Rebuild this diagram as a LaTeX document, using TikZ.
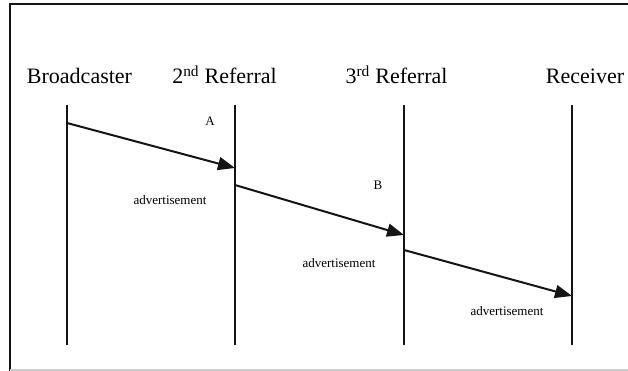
\documentclass[tikz,border=0pt]{standalone}
\usepackage{fontspec}
\setmainfont{Liberation Serif}
\usetikzlibrary{positioning,arrows.meta,calc}
\definecolor{frGray}{RGB}{205,205,205}
\definecolor{lnBlack}{RGB}{20,20,20}

\begin{document}
\begin{tikzpicture}[x=1pt, y=-1pt,
  head/.style={anchor=base, font=\fontsize{22}{26}\selectfont, inner sep=0pt},
  small/.style={font=\fontsize{13}{15}\selectfont, inner sep=0pt},
  life/.style={lnBlack, line width=1.5pt},
  msg/.style={lnBlack, line width=2pt, -{Triangle[length=17pt,width=13pt]}}]
  \useasboundingbox (0,0) rectangle (628,371);

  % Frame
  \draw[lnBlack, line width=2pt] (9.5,371) -- (9.5,4.5) -- (628,4.5);
  \draw[frGray, line width=1.2pt] (9.5,370) -- (628,370);

  % Participants
  \node[head] (bc) at (79.5,84) {Broadcaster};
  \node[head] (r2) at (224.5,84) {2\textsuperscript{nd} Referral};
  \node[head] (r3) at (396.5,84) {3\textsuperscript{rd} Referral};
  \node[head] (rx) at (585,84) {Receiver};

  % Lifelines
  \coordinate (bc-t) at (67,105);  \coordinate (bc-b) at (67,345);
  \coordinate (r2-t) at (235,105); \coordinate (r2-b) at (235,345);
  \coordinate (r3-t) at (404,105); \coordinate (r3-b) at (404,345);
  \coordinate (rx-t) at (572,105); \coordinate (rx-b) at (572,345);
  \draw[life] (bc-t) -- (bc-b);
  \draw[life] (r2-t) -- (r2-b);
  \draw[life] (r3-t) -- (r3-b);
  \draw[life] (rx-t) -- (rx-b);

  % Messages
  \coordinate (m1s) at (67,123);  \coordinate (m1e) at (235,168);
  \coordinate (m2s) at (235,185); \coordinate (m2e) at (404,235);
  \coordinate (m3s) at (404,250); \coordinate (m3e) at (572,296);
  \draw[msg] (m1s) -- (m1e);
  \draw[msg] (m2s) -- (m2e);
  \draw[msg] (m3s) -- (m3e);

  % Labels
  \node[small] (la) at (210,121) {A};
  \node[small] (lb) at (378,185) {B};
  \node[small] (ad1) at (170,200) {advertisement};
  \node[small] (ad2) at (339,263) {advertisement};
  \node[small] (ad3) at (507,311) {advertisement};
\end{tikzpicture}
\end{document}
